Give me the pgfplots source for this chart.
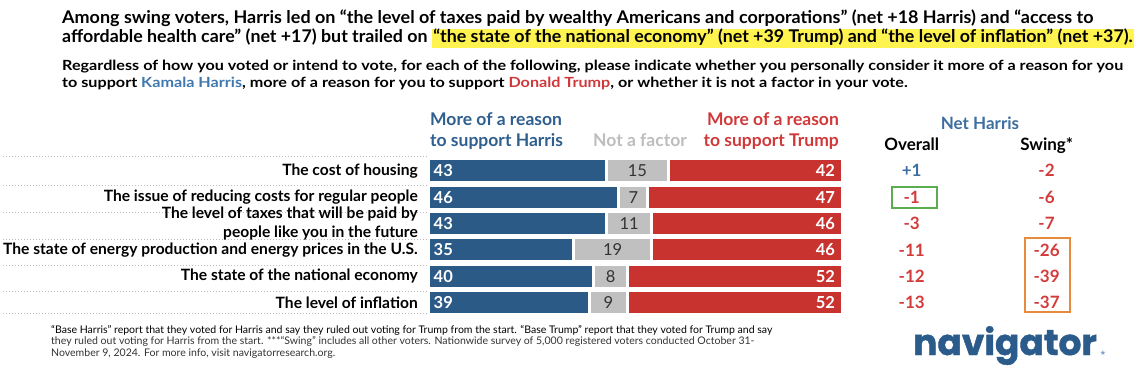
\documentclass[border=0pt]{standalone}
\usepackage{graphicx}
\usepackage{pgfplots}
\pgfplotsset{compat=1.18}
\usepackage{pgfplotstable}
\usepackage{fontspec}
\setmainfont{Lato}
\newfontfamily\logofont{Poppins}[BoldFeatures={FakeBold=1.2}]
\newfontfamily\symfont{DejaVu Sans}
\definecolor{cblue}{HTML}{2C5A87}
\definecolor{cred}{HTML}{C8332F}
\definecolor{cgray}{HTML}{C0C0C0}
\definecolor{hblue}{HTML}{2F5F8F}
\definecolor{hred}{HTML}{D0393A}
\definecolor{hgray}{HTML}{BDBDBD}
\definecolor{nblue}{HTML}{3C6E9F}
\definecolor{nred}{HTML}{D33B3B}
\definecolor{kblue}{HTML}{3F78AE}
\definecolor{hl}{HTML}{FFF34F}
\definecolor{gbox}{HTML}{5BAE4F}
\definecolor{obox}{HTML}{E8893B}
\definecolor{logoblue}{HTML}{2A5B8A}
\definecolor{ftext}{HTML}{333333}

\pgfplotstableread{
y H N T O S
1 43 15 42 +1 -2
2 46 7 47 -1 -6
3 43 11 46 -3 -7
4 35 19 46 -11 -26
5 40 8 52 -12 -39
6 39 9 52 -13 -37
}\data

\pgfplotsset{barax/.style={
  at={(428.5pt,-157.5pt)}, anchor=north west,
  width=413.7pt, height=158.4pt, scale only axis,
  xmin=0, xmax=100, ymin=0.5, ymax=6.5, y dir=reverse,
  axis line style={draw=none}, major tick length=0pt,
  xtick=\empty, clip=false,
}}

\newcommand\hlbox[1]{{\setlength\fboxsep{0pt}\colorbox{hl}{\rule[-5.6pt]{0pt}{18.3pt}\hspace{1.5pt}#1\hspace{1.5pt}}}}
\newsavebox\tA
\newsavebox\tB
\newsavebox\pA
\newsavebox\fA

\begin{document}%
\sbox\tA{\fontsize{17.5}{20}\selectfont\bfseries Among swing voters, Harris led on “the level of taxes paid by wealthy Americans and corporations” (net +18 Harris) and “access to}%
\sbox\tB{\fontsize{17.5}{20}\selectfont\bfseries affordable health care” (net +17) but trailed on \hlbox{“the state of the national economy” (net +39 Trump) and “the level of inflation” (net +37).}}%
\sbox\pA{\fontsize{14}{17}\selectfont\bfseries Regardless of how you voted or intend to vote, for each of the following, please indicate whether you personally consider it more of a reason for you}%
\sbox\fA{\fontsize{10.5}{12}\selectfont “Base Harris” report that they voted for Harris and say they ruled out voting for Trump from the start. “Base Trump” report that they voted for Trump and say}%
\pgfmathsetmacro\ra{1031/\wd\tA}%
\pgfmathsetmacro\rd{1072/\wd\tB}%
\pgfmathsetmacro\rb{1060.7/\wd\pA}%
\pgfmathsetmacro\rc{721/\wd\fA}%
\begin{tikzpicture}
\useasboundingbox (0,0) rectangle (1139pt,-391pt);

% title
\node[anchor=base west, inner sep=0pt] at (62pt,-23.3pt) {\scalebox{\ra}[1]{\usebox\tA}};
\node[anchor=base west, inner sep=0pt] at (62pt,-42.3pt) {\scalebox{\rd}[1]{\usebox\tB}};
% question
\node[anchor=base west, inner sep=0pt] at (62pt,-70pt) {\scalebox{\rb}[1]{\usebox\pA}};
\node[anchor=base west, inner sep=0pt] at (62pt,-87.3pt) {\scalebox{\rb}[1]{\fontsize{14}{17}\selectfont\bfseries to support \textcolor{kblue}{Kamala Harris}, more of a reason for you to support \textcolor{hred}{Donald Trump}, or whether it is not a factor in your vote.}};

% headers
\begin{scope}[every node/.style={inner sep=0pt, font=\fontsize{17.5}{20}\selectfont\bfseries}]
\node[anchor=base west, text=hblue] at (430pt,-125pt) {More of a reason};
\node[anchor=base west, text=hblue] at (430pt,-146.7pt) {to support Harris};
\node[anchor=base west, text=hgray] at (593pt,-146.7pt) {Not a factor};
\node[anchor=base east, text=hred] at (839pt,-125pt) {More of a reason};
\node[anchor=base east, text=hred] at (839pt,-146.7pt) {to support Trump};
\end{scope}
\begin{scope}[every node/.style={inner sep=0pt, font=\fontsize{17}{20}\selectfont\bfseries}]
\node[anchor=base, text=nblue] at (980pt,-129.3pt) {Net Harris};
\node[anchor=base] at (911.7pt,-150.7pt) {Overall};
\node[anchor=base] at (1046.7pt,-150.7pt) {Swing*};
\end{scope}

% dotted separators
\foreach \yy in {156,185,212,239,265,291,313}
  \draw[hgray, line width=1pt, dash pattern=on 1pt off 2pt] (3pt,-\yy pt) -- (428pt,-\yy pt);

\begin{axis}[barax, xbar stacked, bar width=24pt,
  ytick={1,...,6},
  yticklabels={The cost of housing, The issue of reducing costs for regular people, {The level of taxes that will be paid by\\people like you in the future}, The state of energy production and energy prices in the U.S., The state of the national economy, The level of inflation},
  yticklabel style={font=\fontsize{15.6}{19}\selectfont\bfseries, align=right, inner sep=0pt, xshift=-10.5pt},
]
\addplot[fill=cblue, draw=white, line width=3pt] table[x=H, y=y] {\data};
\addplot[fill=cgray, draw=white, line width=3pt] table[x=N, y=y] {\data};
\addplot[fill=cred, draw=white, line width=3pt] table[x=T, y=y] {\data};
\end{axis}

\begin{axis}[barax, ytick=\empty]
\addplot[draw=none, nodes near coords, point meta=explicit symbolic,
  nodes near coords style={anchor=west, inner sep=0pt, xshift=5pt, text=white, font=\fontsize{16.5}{18}\selectfont\bfseries}]
  table[x expr=0, y=y, meta=H] {\data};
\addplot[draw=none, nodes near coords, point meta=explicit symbolic,
  nodes near coords style={anchor=center, inner sep=0pt, text=ftext, font=\fontsize{16.5}{18}\selectfont}]
  table[x expr=\thisrow{H}+\thisrow{N}/2, y=y, meta=N] {\data};
\addplot[draw=none, nodes near coords, point meta=explicit symbolic,
  nodes near coords style={anchor=east, inner sep=0pt, xshift=-7pt, text=white, font=\fontsize{16.5}{18}\selectfont\bfseries}]
  table[x expr=100, y=y, meta=T] {\data};
\addplot[draw=none, nodes near coords, point meta=explicit symbolic, skip coords between index={1}{6},
  nodes near coords style={anchor=center, inner sep=0pt, text=nblue, font=\fontsize{17}{19}\selectfont\bfseries}]
  table[x expr=116.8, y=y, meta=O] {\data};
\addplot[draw=none, nodes near coords, point meta=explicit symbolic, skip coords between index={0}{1},
  nodes near coords style={anchor=center, inner sep=0pt, text=nred, font=\fontsize{17}{19}\selectfont\bfseries}]
  table[x expr=116.8, y=y, meta=O] {\data};
\addplot[draw=none, nodes near coords, point meta=explicit symbolic,
  nodes near coords style={anchor=center, inner sep=0pt, text=nred, font=\fontsize{17}{19}\selectfont\bfseries}]
  table[x expr=149.4, y=y, meta=S] {\data};
\end{axis}

% highlight boxes
\draw[gbox, line width=1.8pt] (891.7pt,-187.3pt) rectangle (936.7pt,-207.7pt);
\draw[obox, line width=1.8pt] (1025pt,-238.3pt) rectangle (1070pt,-312.3pt);

% footnote
\node[anchor=base west, inner sep=0pt, text=ftext] at (51pt,-333pt) {\scalebox{\rc}[1]{\usebox\fA}};
\node[anchor=base west, inner sep=0pt, text=ftext] at (51pt,-344.5pt) {\scalebox{\rc}[1]{\fontsize{10.5}{12}\selectfont they ruled out voting for Harris from the start. ***“Swing” includes all other voters. Nationwide survey of 5,000 registered voters conducted October 31-}};
\node[anchor=base west, inner sep=0pt, text=ftext] at (51pt,-356pt) {\scalebox{\rc}[1]{\fontsize{10.5}{12}\selectfont November 9, 2024. For more info, visit navigatorresearch.org.}};

% logo
\node[anchor=base, inner sep=0pt, text=logoblue, font=\logofont\bfseries\fontsize{36}{40}\selectfont] at (1005pt,-355pt) {navigator};
\node[inner sep=0pt, text=kblue!70!white, font=\symfont\fontsize{7}{8}\selectfont] at (1103pt,-353pt) {★};
\end{tikzpicture}%
\end{document}
